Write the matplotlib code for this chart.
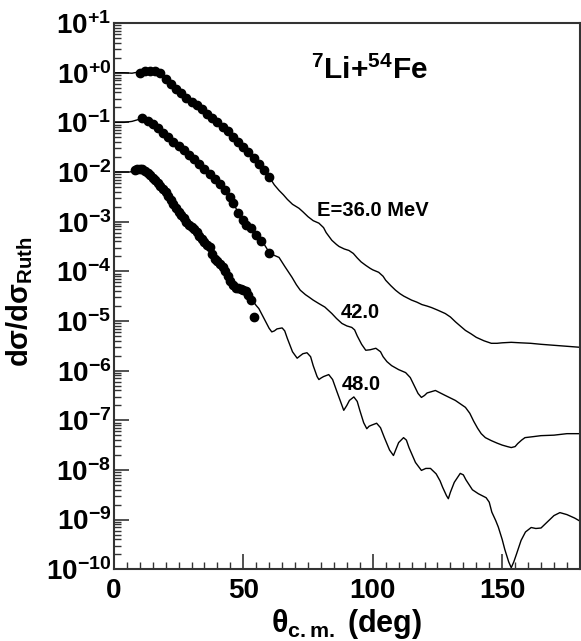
import matplotlib
matplotlib.use('Agg')
import matplotlib.pyplot as plt
from matplotlib.ticker import FixedLocator, LogLocator, NullFormatter
import numpy as np

plt.rcParams['font.family'] = ['Liberation Sans', 'DejaVu Sans']
plt.rcParams['font.weight'] = 'bold'
plt.rcParams['mathtext.fontset'] = 'custom'
plt.rcParams['mathtext.rm'] = 'Liberation Sans:bold'
plt.rcParams['mathtext.it'] = 'Liberation Sans:bold'
plt.rcParams['mathtext.bf'] = 'Liberation Sans:bold'

# measured data, log10(dsigma/dsigma_Ruth) vs theta_cm (deg)
theta_36 = [10, 12, 14, 16, 18, 20, 22, 24, 26, 28, 30, 32, 34, 36, 38, 40,
            42, 44, 46, 48, 50, 52, 54, 56, 58, 60]
logr_36 = [0.0, 0.04, 0.04, 0.03, 0.0, -0.12, -0.22, -0.32, -0.40, -0.50,
           -0.58, -0.66, -0.74, -0.84, -0.92, -1.00, -1.10, -1.18, -1.30,
           -1.40, -1.50, -1.60, -1.72, -1.84, -1.95, -2.10]

theta_42 = [11, 13, 15, 17, 19, 21, 23, 25, 27, 29, 31, 33, 35, 37, 39, 41,
            43, 45, 46, 48, 50, 51, 53, 55, 57, 60]
logr_42 = [-0.92, -0.97, -1.04, -1.12, -1.22, -1.30, -1.40, -1.48, -1.56,
           -1.65, -1.74, -1.84, -1.94, -2.04, -2.14, -2.24, -2.36, -2.50,
           -2.62, -2.82, -2.96, -3.06, -3.12, -3.26, -3.38, -3.64]

theta_48 = [8, 9, 10, 11, 12, 13, 14, 15, 16, 17, 18, 19, 20, 21, 22, 23, 24,
            25, 26, 27, 28, 29, 30, 31, 32, 33, 34, 35, 36, 37, 38, 39, 40,
            41, 42, 43, 44, 45, 46, 47, 48, 49, 50, 51, 52, 53, 54]
logr_48 = [-1.96, -1.94, -1.93, -1.94, -1.97, -2.02, -2.06, -2.12, -2.17,
           -2.22, -2.28, -2.35, -2.41, -2.48, -2.56, -2.64, -2.72, -2.80,
           -2.86, -2.93, -3.00, -3.06, -3.10, -3.15, -3.21, -3.28, -3.34,
           -3.40, -3.46, -3.52, -3.66, -3.76, -3.80, -3.86, -3.92, -4.00,
           -4.10, -4.20, -4.28, -4.33, -4.34, -4.36, -4.37, -4.40, -4.48,
           -4.58, -4.93]

rel_err = 0.10

# model curves
fit_th_36 = [0, 4, 7, 10, 13, 16, 18, 20, 24, 28, 32, 36, 40, 44, 48, 52, 56,
             60, 62, 63.8, 65.5, 67, 69, 71.5, 73, 75, 77, 79.2, 81, 82, 84.2,
             86, 87, 89, 90.8, 92.5, 94, 95.5, 97.3, 99, 100, 102.3, 104, 105,
             107, 108.8, 110.5, 112, 115, 117, 119, 121, 122.7, 125, 128, 130,
             132, 134, 135.8, 138, 140, 143, 145.8, 148, 150, 153.5, 157, 161,
             165, 170, 175, 180]
fit_lr_36 = [0.0, 0.0, -0.01, 0.02, 0.05, 0.03, 0.0, -0.12, -0.32, -0.50,
             -0.66, -0.84, -1.00, -1.18, -1.40, -1.60, -1.84, -2.10, -2.26,
             -2.37, -2.46, -2.55, -2.65, -2.73, -2.80, -2.90, -2.98, -3.03,
             -3.12, -3.22, -3.375, -3.46, -3.50, -3.55, -3.58, -3.64, -3.73,
             -3.81, -3.88, -3.94, -3.97, -4.02, -4.10, -4.18, -4.29, -4.38,
             -4.45, -4.50, -4.58, -4.62, -4.67, -4.70, -4.73, -4.78, -4.85,
             -4.92, -5.02, -5.11, -5.19, -5.26, -5.33, -5.40, -5.45, -5.45,
             -5.44, -5.43, -5.44, -5.45, -5.47, -5.49, -5.51, -5.53]

fit_th_42 = [0, 4, 7, 9, 11, 15, 20, 25, 30, 35, 40, 43, 45, 48, 51, 55, 58,
             60, 62, 63.8, 66, 68.8, 70.5, 72, 74, 75.4, 77, 79.2, 81.5, 84.2,
             86, 88.1, 90, 91.9, 93, 94, 95.7, 97.3, 99, 101.2, 103, 104,
             105.5, 107.3, 110, 112.7, 114.5, 116, 117.5, 118.8, 120, 121,
             124.2, 128, 131.9, 135.8, 137.5, 139, 140.5, 141.9, 143.5, 145.8,
             148, 150, 152, 153.5, 155, 156, 157.5, 158.8, 162, 165, 170, 175,
             180]
fit_lr_42 = [-1.00, -1.00, -0.98, -0.95, -0.92, -1.04, -1.26, -1.48, -1.70,
             -1.94, -2.19, -2.36, -2.50, -2.82, -3.06, -3.26, -3.45, -3.62,
             -3.68, -3.72, -3.90, -4.12, -4.27, -4.38, -4.47, -4.52, -4.58,
             -4.65, -4.72, -4.85, -4.95, -5.05, -5.10, -5.13, -5.18, -5.30,
             -5.47, -5.59, -5.58, -5.55, -5.62, -5.72, -5.82, -5.90, -5.98,
             -6.04, -6.14, -6.30, -6.46, -6.54, -6.50, -6.45, -6.40, -6.50,
             -6.60, -6.74, -6.86, -7.02, -7.16, -7.27, -7.35, -7.41, -7.46,
             -7.50, -7.53, -7.55, -7.53, -7.47, -7.40, -7.35, -7.33, -7.31,
             -7.30, -7.27, -7.27]

fit_th_48 = [0, 3, 6, 7, 8, 10, 12, 15, 20, 25, 30, 35, 38, 40, 44, 47, 50,
             52, 55, 56, 58, 60, 61, 62, 63, 65, 66, 67, 69, 70.8, 72, 73,
             74.6, 76, 77, 78.5, 79.2, 80, 81, 83, 84.5, 86, 88.8, 90, 91,
             92.7, 94, 95, 96.5, 97.7, 98.6, 99.5, 101.5, 103, 104.5, 106.5,
             108, 109, 110, 111.9, 113, 114, 116.5, 118.8, 120.5, 122.3, 124.5,
             126, 127, 128.5, 129.2, 130, 131.5, 133.8, 135, 136, 138.5, 140.8,
             143.8, 145, 146, 147.5, 148.5, 150, 151, 152.5, 153.5, 154.5,
             155.5, 157.3, 159, 161.2, 163, 165, 168, 170, 172.3, 175, 178, 180]
fit_lr_48 = [-2.00, -2.00, -2.00, -1.99, -1.96, -1.92, -1.96, -2.12, -2.41,
             -2.80, -3.10, -3.40, -3.64, -3.80, -4.08, -4.30, -4.38, -4.48,
             -4.69, -4.75, -4.95, -5.15, -5.22, -5.20, -5.16, -5.14, -5.20,
             -5.35, -5.62, -5.75, -5.70, -5.66, -5.64, -5.72, -5.90, -6.12,
             -6.18, -6.15, -6.12, -6.08, -6.18, -6.40, -6.80, -6.70, -6.60,
             -6.53, -6.62, -6.80, -7.05, -7.17, -7.12, -7.10, -7.06, -7.15,
             -7.35, -7.60, -7.71, -7.58, -7.45, -7.35, -7.40, -7.55, -7.85,
             -8.01, -7.97, -7.97, -8.08, -8.22, -8.35, -8.52, -8.58, -8.45,
             -8.25, -8.07, -8.10, -8.20, -8.40, -8.48, -8.56, -8.65, -8.85,
             -9.02, -9.15, -9.40, -9.60, -9.85, -9.97, -9.85, -9.70, -9.42,
             -9.25, -9.16, -9.18, -9.17, -9.02, -8.92, -8.86, -8.90, -8.97,
             -9.03]

ytick_vals = [10.0 ** k for k in range(1, -11, -1)]
ytick_labels = ['$10^{+1}$', '$10^{+0}$'] + ['$10^{%d}$' % k for k in range(-1, -11, -1)]

fig = plt.figure(figsize=(5.81, 6.41), dpi=100)
ax = fig.add_axes([0.196, 0.112, 0.802, 0.852])

for th, lr in [(fit_th_36, fit_lr_36), (fit_th_42, fit_lr_42), (fit_th_48, fit_lr_48)]:
    ax.plot(th, 10.0 ** np.array(lr), color='black', lw=1.0, zorder=2,
            solid_joinstyle='round')

for th, lr in [(theta_36, logr_36), (theta_42, logr_42), (theta_48, logr_48)]:
    y = 10.0 ** np.array(lr)
    ax.errorbar(th, y, yerr=rel_err * y, fmt='o', color='black', ms=6,
                elinewidth=0.9, capsize=1.8, capthick=0.9, zorder=3)

ax.set_yscale('log')
ax.set_xlim(0, 180)
ax.set_ylim(1e-10, 10)

ax.set_xticks([0, 50, 100, 150])
ax.xaxis.set_minor_locator(FixedLocator(np.arange(0, 181, 5)))
ax.set_yticks(ytick_vals)
ax.set_yticklabels(ytick_labels)
ax.yaxis.set_minor_locator(LogLocator(base=10, subs=np.arange(2, 10), numticks=30))
ax.yaxis.set_minor_formatter(NullFormatter())

ax.tick_params(which='major', direction='in', length=11, width=1.2, color='#333333',
               labelsize=20, top=False, right=False)
ax.tick_params(which='minor', direction='in', length=5, width=1.0, color='#333333',
               top=False, right=False)
ax.tick_params(axis='y', pad=2)
ax.tick_params(axis='x', pad=6)

for s in ax.spines.values():
    s.set_linewidth(1.5)
    s.set_color('#333333')

ax.set_xlabel(r'$\theta_{\rm c.m.}$ (deg)', fontsize=22, fontweight='bold')
ax.xaxis.set_label_coords(0.5, -0.07)
ax.set_ylabel(r'd$\sigma$/d$\sigma_{\rm Ruth}$', fontsize=21, fontweight='bold')
ax.yaxis.set_label_coords(-0.17, 0.49)

ax.text(76, 0.74, r'$^{7}$Li+$^{54}$Fe', fontsize=21.5, fontweight='bold', ha='left', va='baseline')
ax.text(78.5, 1.7e-3, 'E=36.0 MeV', fontsize=14.5, fontweight='bold', ha='left', va='center')
ax.text(87.7, 1.5e-5, '42.0', fontsize=14.5, fontweight='bold', ha='left', va='center')
ax.text(88, 5.2e-7, '48.0', fontsize=14.5, fontweight='bold', ha='left', va='center')

fig.savefig('out.png', dpi=100)
